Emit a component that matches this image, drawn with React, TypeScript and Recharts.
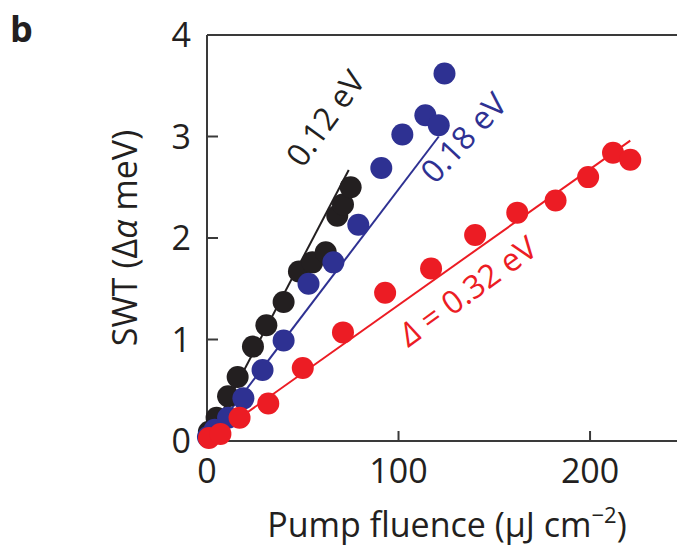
import React from "react";
import { ScatterChart, Scatter, XAxis, YAxis, ReferenceLine, ReferenceDot } from "recharts";

// pump fluence (µJ cm^-2) and SWT (Δα meV) per gap size
const blackX = [1, 5, 11, 16, 24, 31, 40, 48, 55, 62, 68, 71, 75];
const blackY = [0.09, 0.23, 0.44, 0.63, 0.93, 1.14, 1.37, 1.67, 1.76, 1.86, 2.22, 2.33, 2.5];
const blueX = [0.5, 4, 11, 19, 29, 40, 53, 66, 79, 91, 102, 114, 121, 124];
const blueY = [0.04, 0.11, 0.23, 0.42, 0.7, 0.99, 1.55, 1.76, 2.13, 2.69, 3.02, 3.21, 3.11, 3.62];
const redX = [1, 7, 17, 32, 50, 71, 93, 117, 140, 162, 182, 199, 212, 221];
const redY = [0.03, 0.07, 0.23, 0.37, 0.72, 1.07, 1.46, 1.7, 2.03, 2.25, 2.37, 2.6, 2.84, 2.77];

// linear fits: [start, end] as [x, y]
const blackFit = [[0, 0], [74, 2.67]];
const blueFit = [[0, 0], [121, 3.0]];
const redFit = [[0, 0], [221, 2.96]];

const xTicks = [0, 100, 200];
const yTicks = [0, 1, 2, 3, 4];

const BLACK = "#231f20";
const BLUE = "#2e3192";
const RED = "#ec1c24";
const AXIS = "#3a3a3a";
const FONT = "'Open Sans', sans-serif";

const W = 677;
const H = 546;
const LEFT = 207;
const TOP = 35;
const BOTTOM = 441;

const toPoints = (xs: number[], ys: number[]) => xs.map((x, i) => ({ x, y: ys[i] }));

const dot = (color: string) => (p: any) => <circle cx={p.cx} cy={p.cy} r={11} fill={color} />;

const XTick = (p: any) => {
  const v = p.payload.value;
  return (
    <g>
      {v !== 0 && <line x1={p.x} x2={p.x} y1={BOTTOM} y2={BOTTOM - 10} stroke={AXIS} strokeWidth={2} />}
      <text x={p.x} y={483} textAnchor="middle" fontSize={34} fill={BLACK} fontFamily={FONT}>
        {v}
      </text>
    </g>
  );
};

const YTick = (p: any) => {
  const v = p.payload.value;
  return (
    <g>
      {v !== 0 && v !== 4 && <line x1={LEFT} x2={LEFT + 11} y1={p.y} y2={p.y} stroke={AXIS} strokeWidth={2} />}
      <text x={191} y={p.y + 12} textAnchor="end" fontSize={34} fill={BLACK} fontFamily={FONT}>
        {v}
      </text>
    </g>
  );
};

const lineLabel = (text: React.ReactNode, color: string, angle: number) => (p: any) => (
  <text
    x={p.cx}
    y={p.cy}
    transform={`rotate(${angle} ${p.cx} ${p.cy})`}
    fontSize={32}
    fill={color}
    fontFamily={FONT}
  >
    {text}
  </text>
);

export default function App() {
  return (
    <div style={{ position: "absolute", left: 0, top: 0, width: W, height: H, background: "#fff" }}>
      <ScatterChart
        width={W}
        height={H}
        margin={{ top: TOP, right: 0, left: LEFT - 60, bottom: H - BOTTOM - 30 }}
      >
        <XAxis
          type="number"
          dataKey="x"
          domain={[0, 245.4]}
          ticks={xTicks}
          height={30}
          tickLine={false}
          axisLine={{ stroke: AXIS, strokeWidth: 2 }}
          tick={XTick}
        />
        <YAxis
          type="number"
          dataKey="y"
          domain={[0, 4]}
          ticks={yTicks}
          width={60}
          tickLine={false}
          axisLine={{ stroke: AXIS, strokeWidth: 2 }}
          tick={YTick}
        />
        <ReferenceLine y={4} stroke={AXIS} strokeWidth={2} />

        <ReferenceLine
          segment={[{ x: blackFit[0][0], y: blackFit[0][1] }, { x: blackFit[1][0], y: blackFit[1][1] }]}
          stroke={BLACK}
          strokeWidth={2}
        />
        <ReferenceLine
          segment={[{ x: blueFit[0][0], y: blueFit[0][1] }, { x: blueFit[1][0], y: blueFit[1][1] }]}
          stroke={BLUE}
          strokeWidth={2}
        />
        <ReferenceLine
          segment={[{ x: redFit[0][0], y: redFit[0][1] }, { x: redFit[1][0], y: redFit[1][1] }]}
          stroke={RED}
          strokeWidth={2}
        />

        <Scatter data={toPoints(blackX, blackY)} shape={dot(BLACK)} isAnimationActive={false} />
        <Scatter data={toPoints(blueX, blueY)} shape={dot(BLUE)} isAnimationActive={false} />
        <Scatter data={toPoints(redX, redY)} shape={dot(RED)} isAnimationActive={false} />

        <ReferenceDot x={50} y={2.68} r={0} shape={lineLabel("0.12 eV", BLACK, -54)} />
        <ReferenceDot x={119} y={2.52} r={0} shape={lineLabel("0.18 eV", BLUE, -47)} />
        <ReferenceDot
          x={105.5}
          y={0.92}
          r={0}
          shape={lineLabel(
            <>
              <tspan fontStyle="italic">Δ</tspan> = 0.32 eV
            </>,
            RED,
            -36
          )}
        />
      </ScatterChart>

      <svg width={W} height={H} style={{ position: "absolute", left: 0, top: 0, pointerEvents: "none" }}>
        <text x={10} y={42} fontSize={36} fontWeight="bold" fill={BLACK} fontFamily={FONT}>
          b
        </text>
        <text
          x={137}
          y={238}
          transform="rotate(-90 137 238)"
          textAnchor="middle"
          fontSize={34}
          fill={BLACK}
          fontFamily={FONT}
        >
          SWT (Δ<tspan fontStyle="italic">α</tspan> meV)
        </text>
        <text x={447} y={537} textAnchor="middle" fontSize={34} fill={BLACK} fontFamily={FONT}>
          Pump fluence (µJ cm
          <tspan fontSize={22} dy={-14}>−2</tspan>
          <tspan dy={14}>)</tspan>
        </text>
      </svg>
    </div>
  );
}
